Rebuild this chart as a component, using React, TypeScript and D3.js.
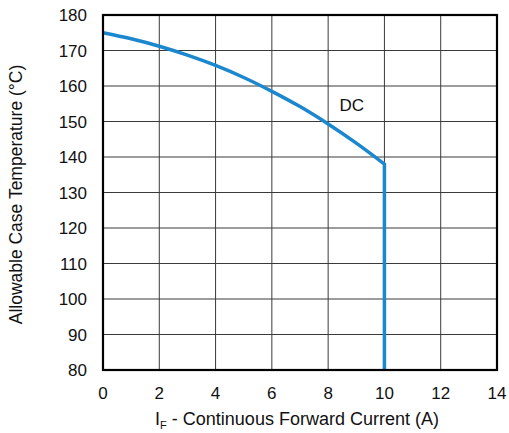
import { useMemo } from "react";
import * as d3 from "d3";

const WIDTH = 509;
const HEIGHT = 433;
const MARGIN = { top: 15, right: 12, bottom: 63, left: 103 };

// DC derating curve (A, °C)
const currents = [0, 1, 2, 3, 4, 5, 6, 7, 8, 9, 10, 10];
const temps = [175, 173.3, 171.2, 168.7, 165.8, 162.4, 158.5, 154.2, 149.3, 143.9, 138, 80];

const xTicks = [0, 2, 4, 6, 8, 10, 12, 14];
const yTicks = [80, 90, 100, 110, 120, 130, 140, 150, 160, 170, 180];

const FONT = "'Liberation Sans', Arial, sans-serif";

export default function App() {
  const boundsWidth = WIDTH - MARGIN.left - MARGIN.right;
  const boundsHeight = HEIGHT - MARGIN.top - MARGIN.bottom;

  const xScale = useMemo(() => d3.scaleLinear().domain([0, 14]).range([0, boundsWidth]), [boundsWidth]);
  const yScale = useMemo(() => d3.scaleLinear().domain([80, 180]).range([boundsHeight, 0]), [boundsHeight]);

  const points: [number, number][] = currents.map((c, i) => [c, temps[i]]);
  const curve = points.slice(0, 11);
  // smooth part up to 10 A, then straight drop
  const linePath =
    d3
      .line<[number, number]>()
      .x((d) => xScale(d[0]))
      .y((d) => yScale(d[1]))
      .curve(d3.curveMonotoneX)(curve) +
    `L${xScale(currents[11])},${yScale(temps[11])}`;

  return (
    <svg
      width={WIDTH}
      height={HEIGHT}
      style={{ position: "absolute", left: 0, top: 0, background: "white" }}
      fontFamily={FONT}
    >
      <g transform={`translate(${MARGIN.left},${MARGIN.top})`}>
        {xTicks.map((t) => (
          <line key={"gx" + t} x1={xScale(t)} x2={xScale(t)} y1={0} y2={boundsHeight} stroke="#3a3a3a" strokeWidth={1} />
        ))}
        {yTicks.map((t) => (
          <line key={"gy" + t} x1={0} x2={boundsWidth} y1={yScale(t)} y2={yScale(t)} stroke="#3a3a3a" strokeWidth={1} />
        ))}
        <path d={linePath} fill="none" stroke="#1b87cf" strokeWidth={3.5} strokeLinejoin="miter" />
        <rect x={0} y={0} width={boundsWidth} height={boundsHeight} fill="none" stroke="#000" strokeWidth={2.2} />

        {xTicks.map((t) => (
          <text key={"tx" + t} x={xScale(t)} y={boundsHeight + 29} textAnchor="middle" fontSize={17} fill="#111">
            {t}
          </text>
        ))}
        {yTicks.map((t) => (
          <text key={"ty" + t} x={-16} y={yScale(t)} dy="0.36em" textAnchor="end" fontSize={17} fill="#111">
            {t}
          </text>
        ))}

        <text x={xScale(8.4)} y={yScale(153)} fontSize={17} fill="#111">
          DC
        </text>

        <text x={boundsWidth / 2 - 3} y={boundsHeight + 55} textAnchor="middle" fontSize={18} fill="#111">
          I<tspan fontSize={11} dy={4}>F</tspan>
          <tspan dy={-4}> - Continuous Forward Current (A)</tspan>
        </text>

        <text
          transform={`translate(${-81},${boundsHeight / 2 + 2}) rotate(-90)`}
          textAnchor="middle"
          fontSize={17.5}
          fill="#111"
        >
          Allowable Case Temperature (°C)
        </text>
      </g>
    </svg>
  );
}
